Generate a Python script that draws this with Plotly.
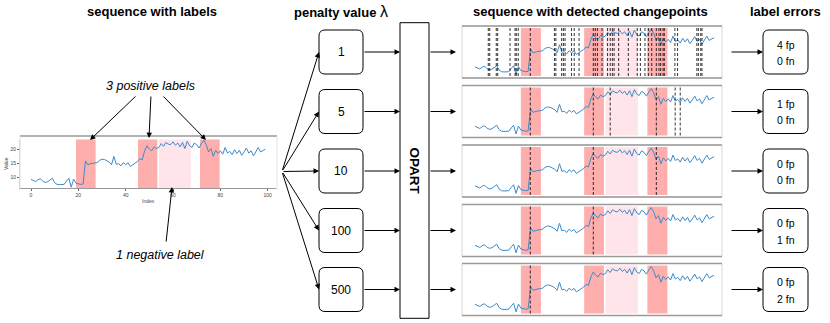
import plotly.graph_objects as go

W, H = 830, 323

# sequence
index = list(range(100))
values = [9.4, 9.0, 8.6, 9.3, 9.6, 8.7, 8.3, 8.5, 9.2, 9.8,
          8.2, 7.6, 7.5, 7.5, 7.6, 8.8, 9.8, 6.6, 9.5, 8.0,
          7.8, 7.6, 7.7, 16.0, 14.6, 15.0, 15.1, 15.2, 15.4, 16.2,
          16.6, 16.5, 16.1, 15.6, 14.6, 17.6, 14.8, 15.0, 14.2, 15.4,
          14.6, 15.3, 14.0, 14.6, 15.2, 15.8, 16.8, 16.4, 19.6, 21.4,
          20.2, 19.6, 21.0, 20.4, 20.8, 22.2, 21.2, 22.6, 22.0, 21.8,
          22.8, 21.6, 22.4, 21.0, 22.6, 20.4, 23.0, 21.4, 20.8, 22.4,
          21.8, 20.6, 22.2, 23.4, 21.8, 19.2, 20.4, 17.6, 19.8, 18.6,
          19.6, 18.4, 20.8, 18.8, 19.4, 18.2, 20.0, 18.6, 19.8, 18.0,
          19.2, 20.6, 18.8, 19.6, 17.8, 19.4, 20.8, 19.2, 19.8, 20.2]

pos_labels = [(19.0, 27.3), (45.2, 53.4), (71.4, 79.7)]
neg_labels = [(54.1, 67.5)]

penalties = [1, 5, 10, 100, 500]
changepoints = [
    [5.5, 6.1, 8.8, 9.4, 14.5, 16.6, 17.1, 17.9, 22.9, 32.9, 33.5, 35.9, 36.6,
     37.3, 40.0, 41.1, 43.1, 49.0, 49.8, 50.7, 52.6, 54.9, 56.0, 56.9, 57.6,
     59.5, 63.5, 67.2, 68.5, 70.4, 71.8, 73.2, 75.1, 76.2, 76.9, 77.9, 78.4,
     82.8, 83.9, 91.9, 92.5, 93.5, 94.0],
    [22.9, 49.0, 56.0, 75.1, 82.9, 85.0],
    [22.9, 49.0, 75.1],
    [22.9, 49.0],
    [22.9],
]
fp = [4, 1, 0, 0, 0]
fn = [0, 0, 0, 1, 2]

FONT = 'Liberation Sans, Arial, sans-serif'
LINE = '#3d8bc9'
POS = 'rgba(255,165,165,0.9)'
NEG = 'rgba(255,228,234,1)'


def X(p):
    return p / W


def Y(p):
    return 1 - p / H


def rrect(x0, y0, x1, y1, r):
    return (f"M {X(x0 + r)},{Y(y0)} L {X(x1 - r)},{Y(y0)} Q {X(x1)},{Y(y0)} {X(x1)},{Y(y0 + r)} "
            f"L {X(x1)},{Y(y1 - r)} Q {X(x1)},{Y(y1)} {X(x1 - r)},{Y(y1)} "
            f"L {X(x0 + r)},{Y(y1)} Q {X(x0)},{Y(y1)} {X(x0)},{Y(y1 - r)} "
            f"L {X(x0)},{Y(y0 + r)} Q {X(x0)},{Y(y0)} {X(x0 + r)},{Y(y0)} Z")


def arrow(tx, ty, hx, hy):
    return dict(x=X(hx), y=Y(hy), xref='paper', yref='paper',
                ax=tx - hx, ay=ty - hy, axref='pixel', ayref='pixel',
                showarrow=True, arrowhead=2, arrowsize=1.1, arrowwidth=1,
                arrowcolor='black', text='')


def label(x, y, text, size=11, color='black', **kw):
    return dict(x=X(x), y=Y(y), xref='paper', yref='paper', text=text,
                xanchor='center', yanchor='middle', showarrow=False,
                font=dict(family=FONT, size=size, color=color), **kw)


fig = go.Figure()
shapes = []
annotations = []

# left chart: sequence with labels
fig.add_trace(go.Scatter(x=index, y=values, mode='lines', xaxis='x', yaxis='y',
                         line=dict(color=LINE, width=1), showlegend=False, hoverinfo='skip'))
layout_axes = dict(
    xaxis=dict(domain=[X(20), X(276)], range=[-4.65, 103.5], anchor='y',
               tickvals=[0, 20, 40, 60, 80, 100], tickfont=dict(size=5, family=FONT, color='#444'),
               ticks='outside', ticklen=2, tickcolor='#666', showgrid=False, zeroline=False,
               showline=True, linecolor='#999', linewidth=0.8),
    yaxis=dict(domain=[Y(188), Y(139.5)], range=[6.3, 23.65], anchor='x',
               tickvals=[10, 15, 20], tickfont=dict(size=5, family=FONT, color='#444'),
               ticks='outside', ticklen=2, tickcolor='#666', showgrid=False, zeroline=False,
               showline=True, linecolor='#ccc', linewidth=0.8),
)
for a, b in pos_labels:
    shapes.append(dict(type='rect', xref='x', yref='y domain', x0=a, x1=b, y0=0, y1=1,
                       fillcolor=POS, line=dict(width=0), layer='below'))
for a, b in neg_labels:
    shapes.append(dict(type='rect', xref='x', yref='y domain', x0=a, x1=b, y0=0, y1=1,
                       fillcolor=NEG, line=dict(width=0), layer='below'))
shapes.append(dict(type='line', xref='paper', yref='paper', x0=X(20), x1=X(277), y0=Y(136), y1=Y(136),
                   line=dict(color='#999', width=1.5)))
for xx in (20, 277):
    shapes.append(dict(type='line', xref='paper', yref='paper', x0=X(xx), x1=X(xx), y0=Y(136), y1=Y(190),
                       line=dict(color='#e2e2e2', width=1)))
annotations.append(label(148, 201, 'Index', size=5, color='#444'))
annotations.append(label(6, 164, 'Value', size=5, color='#444', textangle=-90))

# right charts: detected changepoints
row_c = [52, 111.5, 171, 230.5, 289.5]
for k, cps in enumerate(changepoints):
    n = k + 2
    top = row_c[k] - 26
    fig.add_trace(go.Scatter(x=index, y=values, mode='lines', xaxis=f'x{n}', yaxis=f'y{n}',
                             line=dict(color=LINE, width=1), showlegend=False, hoverinfo='skip'))
    layout_axes[f'xaxis{n}'] = dict(domain=[X(462), X(722)], range=[-5.38, 102.3], anchor=f'y{n}',
                                    visible=False)
    layout_axes[f'yaxis{n}'] = dict(domain=[Y(top + 50), Y(top + 2)], range=[6.0, 23.8],
                                    anchor=f'x{n}', visible=False)
    for a, b in pos_labels:
        shapes.append(dict(type='rect', xref=f'x{n}', yref=f'y{n} domain', x0=a, x1=b, y0=0, y1=1,
                           fillcolor=POS, line=dict(width=0), layer='below'))
    for a, b in neg_labels:
        shapes.append(dict(type='rect', xref=f'x{n}', yref=f'y{n} domain', x0=a, x1=b, y0=0, y1=1,
                           fillcolor=NEG, line=dict(width=0), layer='below'))
    for c in cps:
        shapes.append(dict(type='line', xref=f'x{n}', yref=f'y{n} domain', x0=c, x1=c, y0=0, y1=1,
                           line=dict(color='black', width=0.8, dash='3px,2px')))
    shapes.append(dict(type='rect', xref='paper', yref='paper', x0=X(462), x1=X(722),
                       y0=Y(top + 52), y1=Y(top), line=dict(color='#d8d8d8', width=1)))
    for yy in (top, top + 52):
        shapes.append(dict(type='line', xref='paper', yref='paper', x0=X(462), x1=X(722),
                           y0=Y(yy), y1=Y(yy), line=dict(color='#9a9a9a', width=1.5)))

    # penalty box
    shapes.append(dict(type='path', xref='paper', yref='paper', path=rrect(319, row_c[k] - 22, 363, row_c[k] + 22, 6),
                       line=dict(color='black', width=1), fillcolor='white'))
    annotations.append(label(341, row_c[k], str(penalties[k]), size=12))
    # error box
    shapes.append(dict(type='path', xref='paper', yref='paper', path=rrect(763, row_c[k] - 22, 808, row_c[k] + 22, 6),
                       line=dict(color='black', width=1), fillcolor='white'))
    annotations.append(label(785.5, row_c[k] - 7.5, f'{fp[k]} fp', size=10.5))
    annotations.append(label(785.5, row_c[k] + 9, f'{fn[k]} fn', size=10.5))

    # arrows
    annotations.append(arrow(282, 171.5, 319, row_c[k]))
    annotations.append(arrow(363, row_c[k], 400, row_c[k]))
    annotations.append(arrow(429, row_c[k], 456, row_c[k]))
    annotations.append(arrow(730, row_c[k], 763, row_c[k]))

# OPART box
shapes.append(dict(type='rect', xref='paper', yref='paper', x0=X(400), x1=X(429), y0=Y(318.3), y1=Y(22.7),
                   line=dict(color='black', width=1), fillcolor='white'))
annotations.append(label(414.5, 171, '<b>OPART</b>', size=13.5, textangle=90))

# headings
annotations.append(label(152, 12, '<b>sequence with labels</b>', size=13))
annotations.append(label(341, 12, "<b>penalty value</b> <span style='font-size:16px'>λ</span>", size=13))
annotations.append(label(590, 12, '<b>sequence with detected changepoints</b>', size=13))
annotations.append(label(785, 12, '<b>label errors</b>', size=13))

# label callouts
annotations.append(label(150, 86, '<i>3 positive labels</i>', size=12.5))
annotations.append(arrow(137, 95, 90, 140))
annotations.append(arrow(151, 95, 149, 138))
annotations.append(arrow(162, 95, 206, 140))
annotations.append(label(160, 255, '<i>1 negative label</i>', size=12.5))
annotations.append(arrow(166, 243, 172, 187))

fig.update_layout(
    width=W, height=H,
    margin=dict(l=0, r=0, t=0, b=0),
    paper_bgcolor='white', plot_bgcolor='white',
    shapes=shapes, annotations=annotations,
    font=dict(family=FONT),
    **layout_axes,
)

fig.write_html('out.html', config={'displayModeBar': False},
               post_script="document.body.style.margin='0';")
